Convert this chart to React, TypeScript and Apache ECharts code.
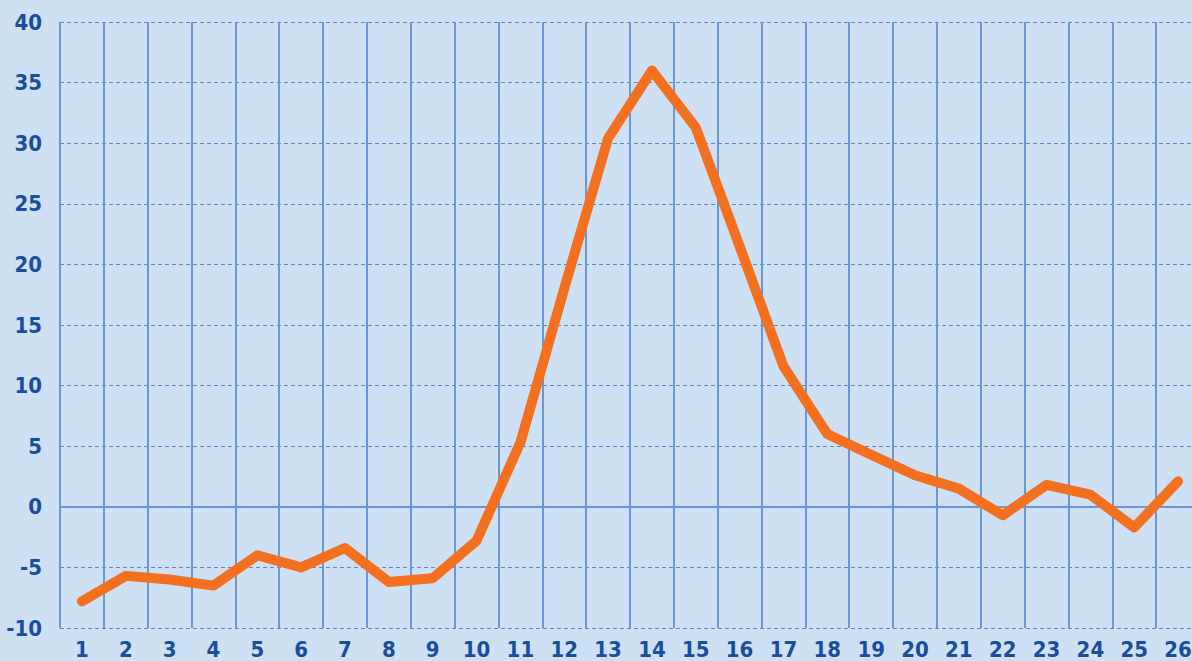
import React, { useEffect, useRef } from "react";
import * as echarts from "echarts";

const categories = ["1","2","3","4","5","6","7","8","9","10","11","12","13","14","15","16","17","18","19","20","21","22","23","24","25","26"];
const values = [-7.8, -5.7, -6.0, -6.5, -4.0, -5.0, -3.4, -6.2, -5.9, -2.8, 5.3, 18.0, 30.4, 36.0, 31.3, 21.5, 11.6, 6.0, 4.3, 2.6, 1.5, -0.7, 1.8, 1.0, -1.7, 2.1];
const yMin = -10;
const yMax = 40;
const yStep = 5;

const labelFont = "'Liberation Sans Narrow', 'DejaVu Sans Condensed', 'Open Sans', sans-serif";

export default function App() {
  const ref = useRef<HTMLDivElement>(null);
  useEffect(() => {
    if (!ref.current) return;
    const chart = echarts.init(ref.current, null, { renderer: "svg" });
    chart.setOption({
      animation: false,
      backgroundColor: "#cde0f4",
      grid: { left: 60, width: 1140, top: 22, bottom: 33, containLabel: false, outerBoundsMode: "none" },
      xAxis: {
        type: "category",
        data: categories,
        boundaryGap: true,
        axisLine: { show: true, onZero: true, lineStyle: { color: "#6b96cf", width: 2 } },
        axisTick: { show: false },
        axisLabel: {
          interval: 0,
          margin: 10,
          color: "#1a4d9a",
          fontWeight: "bold",
          fontSize: 22,
          fontFamily: labelFont,
        },
        splitLine: { show: true, interval: 0, lineStyle: { color: "#6b96cf", width: 2 } },
      },
      yAxis: {
        type: "value",
        min: yMin,
        max: yMax,
        interval: yStep,
        axisLine: { show: false },
        axisTick: { show: false },
        axisLabel: {
          margin: 18,
          color: "#1a4d9a",
          fontWeight: "bold",
          fontSize: 22,
          fontFamily: labelFont,
        },
        splitLine: { show: true, lineStyle: { color: "#5f88c2", width: 1, type: [4, 3] } },
      },
      series: [
        {
          type: "line",
          data: values,
          symbol: "none",
          lineStyle: { color: "#f37021", width: 10, cap: "round", join: "round" },
        },
      ],
    });
    return () => chart.dispose();
  }, []);
  return (
    <div
      ref={ref}
      style={{ position: "absolute", left: 0, top: 0, width: 1192, height: 661 }}
    />
  );
}
